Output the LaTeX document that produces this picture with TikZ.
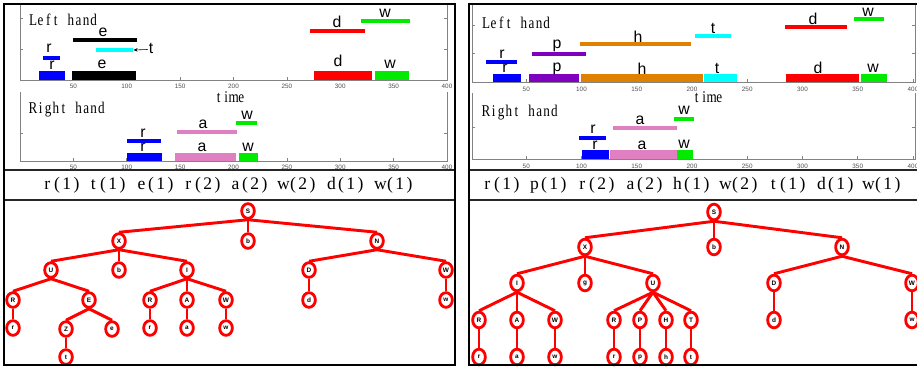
\documentclass[tikz,border=0pt]{standalone}
\usepackage{fontspec}
\usepackage{graphicx}
\setmainfont{Liberation Serif}
\setsansfont{Liberation Sans}
\usetikzlibrary{arrows.meta,shapes.geometric}

\definecolor{barblue}{RGB}{0,0,255}
\definecolor{barcyan}{RGB}{0,255,255}
\definecolor{barred}{RGB}{255,0,0}
\definecolor{bargreen}{RGB}{0,235,0}
\definecolor{barpink}{RGB}{224,128,192}
\definecolor{barpurple}{RGB}{128,0,192}
\definecolor{barorange}{RGB}{224,128,0}
\definecolor{axisgray}{RGB}{130,130,130}
\definecolor{ticktext}{RGB}{80,80,80}
\definecolor{treered}{RGB}{255,0,0}

% set each character in a cell of fixed width (half-width serif look)
\newlength\cellwd
\def\eachchar#1{\ifx#1\relax\else\makebox[\cellwd][c]{#1}\expandafter\eachchar\fi}
\newcommand\celltext[2]{\setlength\cellwd{#1}\eachchar#2\relax}
\newcommand\narrowcells[1]{\scalebox{0.8}[1]{\celltext{8.1pt}{#1}}}
\newcommand\seqitem[1]{\celltext{8.3pt}{#1}}

\begin{document}
\begin{tikzpicture}[
  x=0.03cm, y=-0.03cm,
  panelframe/.style={draw=black, line width=1.7pt},
  divider/.style={draw=black!85, line width=1.2pt},
  axisline/.style={draw=axisgray, line width=0.6pt},
  barlabel/.style={font=\sffamily\fontsize{13.5}{13.5}\selectfont, inner sep=0pt},
  handlabel/.style={font=\fontsize{14}{14}\selectfont, inner sep=0pt, anchor=west},
  timelabel/.style={font=\fontsize{14}{14}\selectfont, inner sep=0pt},
  ticklabel/.style={font=\sffamily\fontsize{5.4}{5.4}\selectfont, text=ticktext, inner sep=0pt},
  seqlabel/.style={font=\fontsize{15}{15}\selectfont, inner sep=0pt},
  treeedge/.style={draw=treered, line width=2.5pt},
  treenode/.style={ellipse, draw=treered, line width=2.4pt, fill=white,
    inner sep=0pt, minimum width=0.38cm, minimum height=0.44cm,
    font=\sffamily\bfseries\fontsize{5.5}{5.5}\selectfont},
  treenodeb/.style={treenode, minimum height=0.47cm},
]
\useasboundingbox (0,0) rectangle (917,367);
\clip (0,0) rectangle (917,367);
\fill[white] (0,0) rectangle (917,367);

% ---------------- left panel: time charts ----------------
% Left hand axes
\draw[axisline] (20,5) -- (20,80) -- (447,80) -- (447,5);
\foreach \yv in {18,49} {
  \draw[axisline] (20,\yv) -- ++(3,0);
  \draw[axisline] (447,\yv) -- ++(-3,0);
}
\foreach \tv in {50,100,...,400} {
  \draw[axisline] ({20+1.0675*\tv},80) -- ++(0,-3);
  \node[ticklabel] (lta\tv) at ({20+1.0675*\tv},86) {\tv};
}
\node[handlabel] (lhl) at (29,20) {\narrowcells{Left~hand}};
\node[timelabel] (ltime) at (230,97) {\narrowcells{time}};

\fill[barblue] (43,56) rectangle (60,60);
\fill[barblue] (39,71) rectangle (65,80);
\fill[black] (72,71) rectangle (136,80);
\fill[black] (73,38) rectangle (137,42);
\fill[barcyan] (96,48) rectangle (133,52);
\fill[barred] (310,29) rectangle (365,33);
\fill[bargreen] (361,19.5) rectangle (410,23.5);
\fill[barred] (314,71) rectangle (372,80);
\fill[bargreen] (375,71) rectangle (409,80);

\node[barlabel] (llr1) at (49,48) {r};
\node[barlabel] (llr2) at (52,65) {r};
\node[barlabel] (lle2) at (102,64) {e};
\node[barlabel] (lle1) at (103,32) {e};
\node[barlabel] (llt) at (151,48) {t};
\node[barlabel] (lld1) at (337,22) {d};
\node[barlabel] (llw1) at (385,13) {w};
\node[barlabel] (lld2) at (338,61) {d};
\node[barlabel] (llw2) at (390,64) {w};
\coordinate (lltend) at (133.5,50);
\draw[line width=0.5pt, -{Stealth[length=3.5pt, width=3pt]}] (llt.west) ++(-1,1.5) -- (lltend);

% Right hand axes
\draw[axisline] (20,92) -- (20,161) -- (447,161) -- (447,92);
\draw[axisline] (20,133) -- ++(3,0);
\draw[axisline] (447,133) -- ++(-3,0);
\foreach \tv in {50,100,...,400} {
  \draw[axisline] ({20+1.0675*\tv},161) -- ++(0,-3);
  \node[ticklabel] (ltb\tv) at ({20+1.0675*\tv},167) {\tv};
}
\node[handlabel] (lhr) at (29,110) {\narrowcells{Right~hand}};

\fill[barblue] (127,139) rectangle (161,143);
\fill[barblue] (127,153) rectangle (162,161);
\fill[barpink] (177,130) rectangle (237,134);
\fill[barpink] (175,153) rectangle (236,161);
\fill[bargreen] (236,121) rectangle (257,125);
\fill[bargreen] (239,153) rectangle (258,161);

\node[barlabel] (lrr1) at (143,133) {r};
\node[barlabel] (lrr2) at (143,147) {r};
\node[barlabel] (lra1) at (203,124) {a};
\node[barlabel] (lra2) at (202,147) {a};
\node[barlabel] (lrw1) at (247,115) {w};
\node[barlabel] (lrw2) at (248,147) {w};

% left sequence
\node[seqlabel] (ls1) at (62,185) {\seqitem{r(1)}};
\node[seqlabel] (ls2) at (108,185) {\seqitem{t(1)}};
\node[seqlabel] (ls3) at (156,185) {\seqitem{e(1)}};
\node[seqlabel] (ls4) at (203,185) {\seqitem{r(2)}};
\node[seqlabel] (ls5) at (250,185) {\seqitem{a(2)}};
\node[seqlabel] (ls6) at (298,185) {\seqitem{w(2)}};
\node[seqlabel] (ls7) at (346,185) {\seqitem{d(1)}};
\node[seqlabel] (ls8) at (395,185) {\seqitem{w(1)}};

% ---------------- right panel: time charts ----------------
\draw[axisline] (472,5) -- (472,82) -- (915,82) -- (915,5);
\foreach \yv in {25,53} {
  \draw[axisline] (472,\yv) -- ++(3,0);
  \draw[axisline] (915,\yv) -- ++(-3,0);
}
\foreach \tv in {50,100,...,400} {
  \draw[axisline] ({471+1.105*\tv},82) -- ++(0,-3);
  \node[ticklabel] (rta\tv) at ({471+1.105*\tv},89) {\tv};
}
\node[handlabel] (rhl) at (482,23) {\narrowcells{Left~hand}};
\node[timelabel] (rtime) at (708,97) {\narrowcells{time}};

\fill[barblue] (486,60) rectangle (517,64);
\fill[barblue] (493,74) rectangle (521,82);
\fill[barpurple] (532,52) rectangle (586,56);
\fill[barpurple] (529,74) rectangle (579,82);
\fill[barorange] (580,42) rectangle (691,46);
\fill[barorange] (581,74) rectangle (703,82);
\fill[barcyan] (695,34) rectangle (731,38);
\fill[barcyan] (704,74) rectangle (737,82);
\fill[barred] (785,25) rectangle (847,29);
\fill[bargreen] (854,17) rectangle (884,21);
\fill[barred] (786,74) rectangle (859,82);
\fill[bargreen] (861,74) rectangle (887,82);

\node[barlabel] (rlr1) at (502,54) {r};
\node[barlabel] (rlr2) at (505,68) {r};
\node[barlabel] (rlp1) at (557,46) {p};
\node[barlabel] (rlp2) at (557,69) {p};
\node[barlabel] (rlh1) at (638,37) {h};
\node[barlabel] (rlh2) at (642,69) {h};
\node[barlabel] (rlt1) at (713,28) {t};
\node[barlabel] (rlt2) at (717,68) {t};
\node[barlabel] (rld1) at (813,19) {d};
\node[barlabel] (rlw1) at (868,12) {w};
\node[barlabel] (rld2) at (818,68) {d};
\node[barlabel] (rlw2) at (873,68) {w};

\draw[axisline] (472,93) -- (472,159) -- (915,159) -- (915,93);
\draw[axisline] (472,127) -- ++(3,0);
\draw[axisline] (915,127) -- ++(-3,0);
\foreach \tv in {50,100,...,400} {
  \draw[axisline] ({471+1.105*\tv},159) -- ++(0,-3);
  \node[ticklabel] (rtb\tv) at ({471+1.105*\tv},166) {\tv};
}
\node[handlabel] (rhr) at (482,113) {\narrowcells{Right~hand}};

\fill[bargreen] (674,117) rectangle (694,121);
\fill[barpink] (613,126) rectangle (677,130);
\fill[barblue] (579,136) rectangle (606,140);
\fill[barblue] (582,150) rectangle (609,159);
\fill[barpink] (610,150) rectangle (677,159);
\fill[bargreen] (677,150) rectangle (693,159);

\node[barlabel] (rrw1) at (684,110) {w};
\node[barlabel] (rra1) at (640,120) {a};
\node[barlabel] (rrr1) at (593,129) {r};
\node[barlabel] (rrr2) at (595,145) {r};
\node[barlabel] (rra2) at (642,145) {a};
\node[barlabel] (rrw2) at (684,144) {w};

% right sequence
\node[seqlabel] (rs1) at (502,185) {\seqitem{r(1)}};
\node[seqlabel] (rs2) at (549,185) {\seqitem{p(1)}};
\node[seqlabel] (rs3) at (597,185) {\seqitem{r(2)}};
\node[seqlabel] (rs4) at (645,185) {\seqitem{a(2)}};
\node[seqlabel] (rs5) at (692,185) {\seqitem{h(1)}};
\node[seqlabel] (rs6) at (740,185) {\seqitem{w(2)}};
\node[seqlabel] (rs7) at (788,185) {\seqitem{t(1)}};
\node[seqlabel] (rs8) at (836,185) {\seqitem{d(1)}};
\node[seqlabel] (rs9) at (883,185) {\seqitem{w(1)}};

% ---------------- left parse tree ----------------
\node[treenode] (LS) at (248,211) {S};
\node[treenode] (LX) at (119,241) {X};
\node[treenode] (Lb) at (248,241) {b};
\node[treenode] (LN) at (377,241) {N};
\node[treenode] (LU) at (51,270) {U};
\node[treenode] (Lbb) at (119,270) {b};
\node[treenode] (LI) at (187,270) {I};
\node[treenode] (LD) at (309,270) {D};
\node[treenode] (LW) at (446,270) {W};
\node[treenode] (LR1) at (13,300) {R};
\node[treenode] (LE) at (89,300) {E};
\node[treenode] (LR2) at (150,300) {R};
\node[treenode] (LA) at (187,300) {A};
\node[treenode] (LW2) at (226,300) {W};
\node[treenode] (Ld) at (309,300) {d};
\node[treenode] (Lw) at (446,300) {w};
\node[treenode] (Lr1) at (13,328) {r};
\node[treenode] (LZ) at (66,329) {Z};
\node[treenode] (Le) at (112,329) {e};
\node[treenode] (Lr2) at (150,328) {r};
\node[treenode] (La) at (187,328) {a};
\node[treenode] (Lw2) at (226,328) {w};
\node[treenode] (Lt) at (66,357) {t};
\foreach \p/\c in {LS/LX,LS/Lb,LS/LN,LX/LU,LX/Lbb,LX/LI,LN/LD,LN/LW,
                   LU/LR1,LU/LE,LI/LR2,LI/LA,LI/LW2,LD/Ld,LW/Lw,
                   LR1/Lr1,LE/LZ,LE/Le,LR2/Lr2,LA/La,LW2/Lw2,LZ/Lt}
  \draw[treeedge] (\p.south) -- (\c.north);

% ---------------- right parse tree ----------------
\node[treenodeb] (RS) at (714,212) {S};
\node[treenodeb] (RX) at (585,247) {X};
\node[treenodeb] (Rb) at (714,247) {b};
\node[treenodeb] (RN) at (842,247) {N};
\node[treenodeb] (RI) at (517,283) {I};
\node[treenodeb] (Rg) at (585,283) {g};
\node[treenodeb] (RU) at (653,283) {U};
\node[treenodeb] (RD) at (774,283) {D};
\node[treenodeb] (RW) at (912,283) {W};
\node[treenodeb] (RR1) at (479,320) {R};
\node[treenodeb] (RA) at (517,320) {A};
\node[treenodeb] (RW2) at (555,320) {W};
\node[treenodeb] (RR2) at (614,320) {R};
\node[treenodeb] (RP) at (640,320) {P};
\node[treenodeb] (RH) at (666,320) {H};
\node[treenodeb] (RT) at (691,320) {T};
\node[treenodeb] (Rd) at (774,320) {d};
\node[treenodeb] (Rw) at (912,320) {w};
\node[treenodeb] (Rr1) at (479,357) {r};
\node[treenodeb] (Ra) at (517,357) {a};
\node[treenodeb] (Rw2) at (555,357) {w};
\node[treenodeb] (Rr2) at (614,357) {r};
\node[treenodeb] (Rp) at (640,357) {p};
\node[treenodeb] (Rh) at (666,357) {h};
\node[treenodeb] (Rt) at (691,357) {t};
\foreach \p/\c in {RS/RX,RS/Rb,RS/RN,RX/RI,RX/Rg,RX/RU,RN/RD,RN/RW,
                   RI/RR1,RI/RA,RI/RW2,RU/RR2,RU/RP,RU/RH,RU/RT,RD/Rd,RW/Rw,
                   RR1/Rr1,RA/Ra,RW2/Rw2,RR2/Rr2,RP/Rp,RH/Rh,RT/Rt}
  \draw[treeedge] (\p.south) -- (\c.north);

% ---------------- panel frames ----------------
\draw[divider] (4,170) -- (455,170);
\draw[divider] (4,200) -- (455,200);
\draw[divider] (469,170) -- (920,170);
\draw[divider] (469,200) -- (920,200);
\draw[panelframe] (4,4) rectangle (455,365);
\draw[panelframe] (469,4) rectangle (920,365);
\end{tikzpicture}
\end{document}
